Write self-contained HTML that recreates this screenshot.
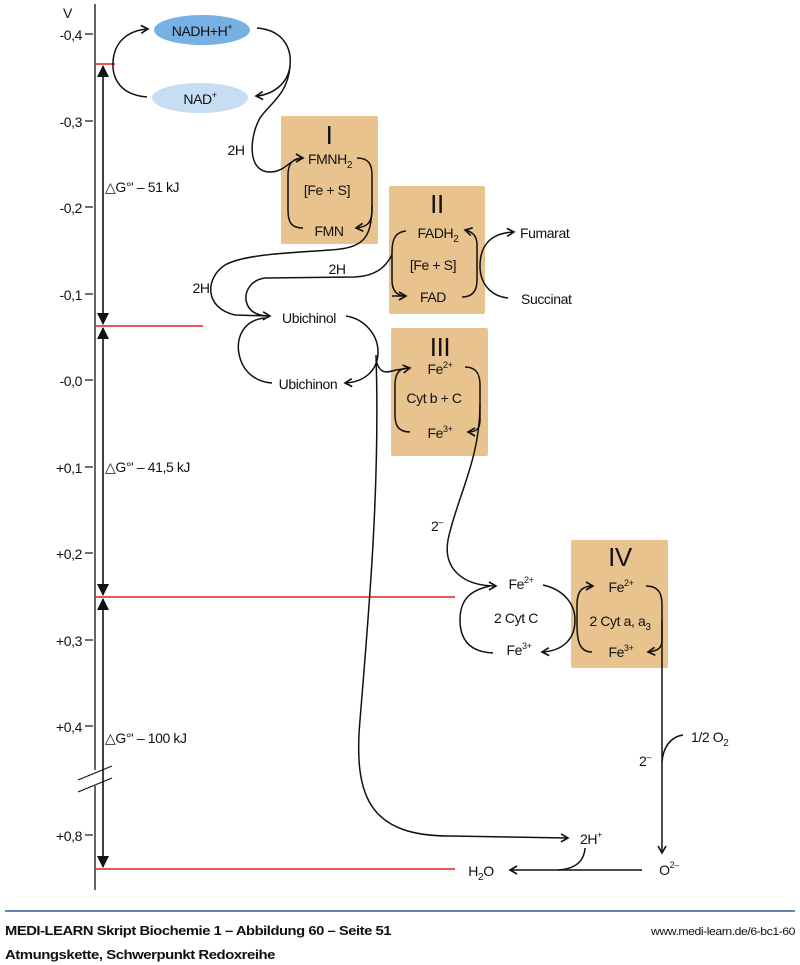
<!DOCTYPE html>
<html><head><meta charset="utf-8"><style>
html,body{margin:0;padding:0;background:#fff;}
svg{display:block;}
text{font-family:"Liberation Sans Narrow","Liberation Sans",sans-serif;fill:#111;letter-spacing:-0.4px;}
</style></head><body>
<svg width="800" height="965" viewBox="0 0 800 965" xmlns="http://www.w3.org/2000/svg">
<defs>
<marker id="a" markerUnits="userSpaceOnUse" markerWidth="12" markerHeight="12" refX="9" refY="5" orient="auto">
<path d="M2,1 L9,5 L2,9" fill="none" stroke="#111" stroke-width="1.6"/>
</marker>
<marker id="t" markerUnits="userSpaceOnUse" markerWidth="12" markerHeight="14" refX="11" refY="6" orient="auto-start-reverse">
<path d="M0,0 L12,6 L0,12 Z" fill="#111"/>
</marker>
</defs>

<rect x="281" y="116" width="97" height="128" rx="2" fill="#e8c38e"/>
<rect x="389" y="186" width="96" height="128" rx="2" fill="#e8c38e"/>
<rect x="391" y="328" width="97" height="128" rx="2" fill="#e8c38e"/>
<rect x="571" y="540" width="97" height="128" rx="2" fill="#e8c38e"/>

<ellipse cx="202" cy="30" rx="48" ry="15" fill="#77b0e2"/>
<ellipse cx="200" cy="98" rx="48" ry="15" fill="#c6ddf3"/>

<line x1="95" y1="4" x2="95" y2="770" stroke="#111" stroke-width="1.3"/>
<line x1="95" y1="786" x2="95" y2="890" stroke="#111" stroke-width="1.3"/>
<g stroke="#111" stroke-width="1.2">
<line x1="85" y1="34" x2="93" y2="34"/><line x1="85" y1="121" x2="93" y2="121"/>
<line x1="85" y1="207" x2="93" y2="207"/><line x1="85" y1="294" x2="93" y2="294"/>
<line x1="85" y1="380" x2="93" y2="380"/><line x1="85" y1="467" x2="93" y2="467"/>
<line x1="85" y1="553" x2="93" y2="553"/><line x1="85" y1="640" x2="93" y2="640"/>
<line x1="85" y1="726" x2="93" y2="726"/><line x1="85" y1="835" x2="93" y2="835"/>
<line x1="78" y1="780" x2="112" y2="766"/><line x1="78" y1="792" x2="112" y2="778"/>
</g>
<g font-size="14" text-anchor="end">
<text x="72" y="18">V</text>
<text x="82" y="40">-0,4</text><text x="82" y="127">-0,3</text><text x="82" y="213">-0,2</text>
<text x="82" y="300">-0,1</text><text x="82" y="386">-0,0</text><text x="82" y="473">+0,1</text>
<text x="82" y="559">+0,2</text><text x="82" y="646">+0,3</text><text x="82" y="732">+0,4</text>
<text x="82" y="841">+0,8</text>
</g>

<g stroke="#e0201c" stroke-width="1.6">
<line x1="95" y1="64" x2="115" y2="64"/>
<line x1="95" y1="326" x2="203" y2="326"/>
<line x1="95" y1="597" x2="455" y2="597"/>
<line x1="95" y1="869" x2="455" y2="869"/>
</g>
<g stroke="#111" stroke-width="1.6">
<line x1="103" y1="66" x2="103" y2="324" marker-start="url(#t)" marker-end="url(#t)"/>
<line x1="103" y1="328" x2="103" y2="595" marker-start="url(#t)" marker-end="url(#t)"/>
<line x1="103" y1="599" x2="103" y2="867" marker-start="url(#t)" marker-end="url(#t)"/>
</g>
<g font-size="14">
<text x="105" y="192">△G°'  – 51 kJ</text>
<text x="105" y="472">△G°'  – 41,5 kJ</text>
<text x="105" y="743">△G°'  – 100 kJ</text>
</g>

<g fill="none" stroke="#111" stroke-width="1.5">
<path d="M147,97 C120,95 112,78 113,62 C114,42 128,30 148,29" marker-end="url(#a)"/>
<path d="M257,28 C283,30 292,48 290,66 C288,84 272,95 256,96" marker-end="url(#a)"/>
<path d="M290,66 C288,95 268,105 260,118 C250,135 246,172 270,172 C286,172 290,158 303,158" marker-end="url(#a)"/>
<path d="M303,228 C291,228 288,222 288,210 L288,175 C288,162 294,158 303,158"/>
<path d="M357,158 C369,158 372,165 372,175 L372,210 C372,224 366,227 356,228" marker-end="url(#a)"/>
<path d="M372,205 C372,240 362,248 330,250 C290,253 245,254 225,265 C205,278 204,308 235,315 L270,316" marker-end="url(#a)"/>
<path d="M406,296 C396,296 392,290 392,280 L392,252 C392,238 396,232 406,231"/>
<path d="M392,296 L406,296" marker-end="url(#a)"/>
<path d="M392,255 C385,268 375,276 355,277 L265,278 C250,280 245,292 246,300 C248,312 258,316 270,316"/>
<path d="M462,297 C473,297 477,290 477,280 L477,245 C477,236 473,232 465,230" marker-end="url(#a)"/>
<path d="M508,298 C490,296 480,283 480,266 C480,246 490,233 514,232" marker-end="url(#a)"/>
<path d="M265,318 C243,320 236,338 239,354 C243,374 258,382 272,383"/>
<path d="M346,316 C365,319 378,335 378,352 C378,370 365,382 345,383" marker-end="url(#a)"/>
<path d="M376,355 C380,480 370,600 360,720 C353,800 372,836 450,836 L568,838" marker-end="url(#a)"/>
<path d="M376,360 C380,376 388,372 396,370 L410,368" marker-end="url(#a)"/>
<path d="M410,432 C398,432 395,425 395,415 L395,385 C395,373 400,368 408,368"/>
<path d="M465,367 C477,367 480,375 480,385 L480,420 C480,429 476,432 468,432" marker-end="url(#a)"/>
<path d="M480,405 C480,460 456,500 448,540 C443,568 462,586 496,586" marker-end="url(#a)"/>
<path d="M493,653 C470,652 460,640 460,620 C460,598 472,590 490,586"/>
<path d="M543,585 C565,590 575,605 575,620 C575,640 562,651 542,652" marker-end="url(#a)"/>
<path d="M592,652 C580,652 577,642 577,625 L577,605 C577,591 582,586 593,586" marker-end="url(#a)"/>
<path d="M646,586 C659,586 662,594 662,605 L662,640 C662,648 658,651 648,652" marker-end="url(#a)"/>
<path d="M662,620 L662,853" marker-end="url(#a)"/>
<path d="M683,735 C670,737 663,748 662,762"/>
<path d="M642,870 L510,870" marker-end="url(#a)"/>
<path d="M585,848 C584,862 575,869 558,870"/>
</g>

<g font-size="14" text-anchor="middle">
<text x="202" y="36">NADH+H<tspan font-size="9" dy="-6">+</tspan></text>
<text x="200" y="104">NAD<tspan font-size="9" dy="-6">+</tspan></text>
<text x="236" y="155">2H</text>
<text x="201" y="293">2H</text>
<text x="337" y="274">2H</text>
<text x="330" y="164">FMNH<tspan font-size="10" dy="4">2</tspan></text>
<text x="327" y="195">[Fe + S]</text>
<text x="329" y="236">FMN</text>
<text x="438" y="238">FADH<tspan font-size="10" dy="4">2</tspan></text>
<text x="433" y="270">[Fe + S]</text>
<text x="433" y="302">FAD</text>
<text x="309" y="323">Ubichinol</text>
<text x="308" y="389">Ubichinon</text>
<text x="440" y="374">Fe<tspan font-size="9" dy="-6">2+</tspan></text>
<text x="434" y="403">Cyt b + C</text>
<text x="440" y="438">Fe<tspan font-size="9" dy="-6">3+</tspan></text>
<text x="437" y="531">2<tspan font-size="9" dy="-6">–</tspan></text>
<text x="521" y="589">Fe<tspan font-size="9" dy="-6">2+</tspan></text>
<text x="516" y="623">2 Cyt C</text>
<text x="519" y="655">Fe<tspan font-size="9" dy="-6">3+</tspan></text>
<text x="621" y="592">Fe<tspan font-size="9" dy="-6">2+</tspan></text>
<text x="620" y="626">2 Cyt a, a<tspan font-size="10" dy="4">3</tspan></text>
<text x="621" y="657">Fe<tspan font-size="9" dy="-6">3+</tspan></text>
<text x="645" y="766">2<tspan font-size="9" dy="-6">–</tspan></text>
<text x="591" y="844">2H<tspan font-size="9" dy="-6">+</tspan></text>
<text x="481" y="876">H<tspan font-size="10" dy="4">2</tspan><tspan dy="-4">O</tspan></text>
<text x="669" y="875">O<tspan font-size="9" dy="-7">2–</tspan></text>
</g>
<g font-size="14">
<text x="520" y="238">Fumarat</text>
<text x="521" y="304">Succinat</text>
<text x="691" y="742">1/2 O<tspan font-size="10" dy="4">2</tspan></text>
</g>
<g font-size="26" text-anchor="middle">
<text x="329" y="144">I</text>
<text x="437" y="213">II</text>
<text x="440" y="356">III</text>
<text x="620" y="566">IV</text>
</g>

<line x1="5" y1="911" x2="795" y2="911" stroke="#2f5b9c" stroke-width="1.5"/>
<text x="5" y="935" font-size="13" font-weight="bold" textLength="386" lengthAdjust="spacingAndGlyphs" style="font-family:'Liberation Sans',sans-serif">MEDI-LEARN Skript Biochemie 1 – Abbildung 60 – Seite 51</text>
<text x="5" y="959" font-size="13" font-weight="bold" textLength="270" lengthAdjust="spacingAndGlyphs" style="font-family:'Liberation Sans',sans-serif">Atmungskette, Schwerpunkt Redoxreihe</text>
<text x="795" y="935" font-size="11" text-anchor="end" textLength="144" lengthAdjust="spacingAndGlyphs" style="font-family:'Liberation Sans',sans-serif">www.medi-learn.de/6-bc1-60</text>
</svg>
</body></html>
